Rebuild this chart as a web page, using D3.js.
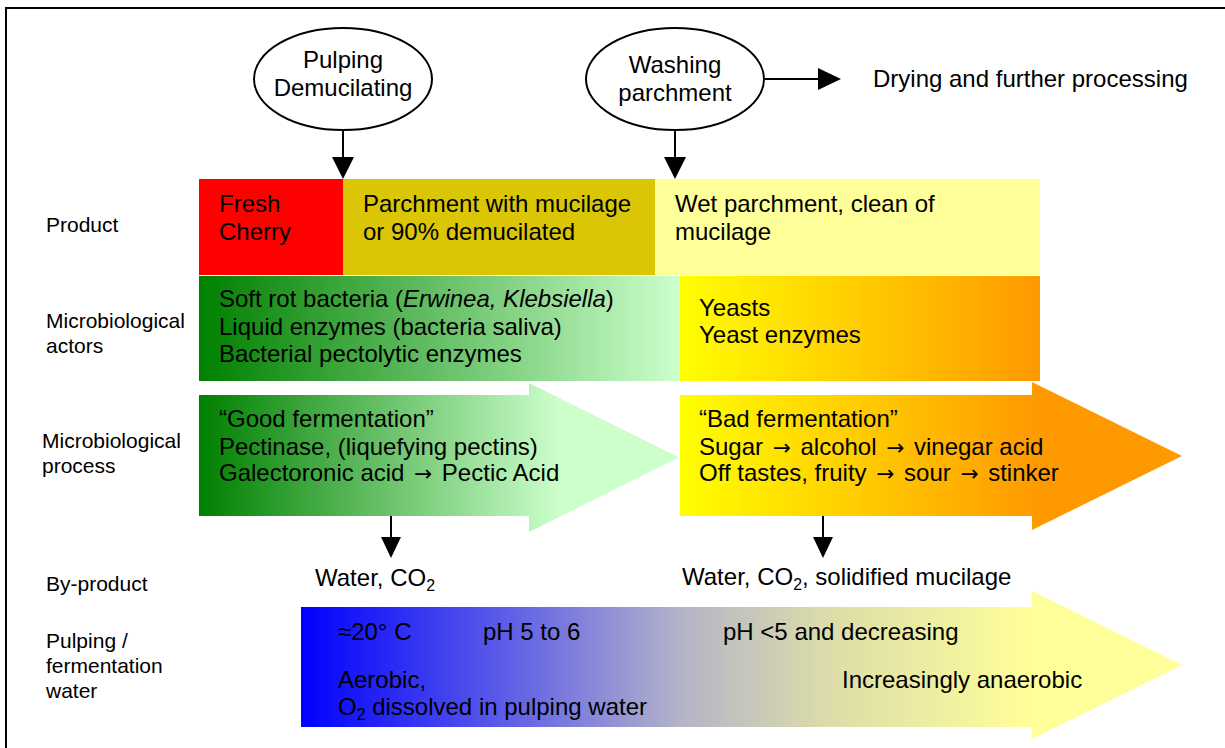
<!DOCTYPE html>
<html>
<head>
<meta charset="utf-8">
<script src="https://cdn.jsdelivr.net/npm/d3@7"></script>
<style>
  body { margin: 0; background: #fff; }
  svg text { font-family: "Liberation Sans", Arial, sans-serif; fill: #000; }
</style>
</head>
<body>
<svg id="canvas" width="1225" height="748"></svg>
<script>
// ---- data ----
let steps = [['Pulping', 'Demucilating'], ['Washing', 'parchment']]
let nextStep = 'Drying and further processing'

let rowLabels = [
  ['Product'],
  ['Microbiological', 'actors'],
  ['Microbiological', 'process'],
  ['By-product'],
  ['Pulping /', 'fermentation', 'water']
]

let productTexts = [
  ['Fresh', 'Cherry'],
  ['Parchment with mucilage', 'or 90% demucilated'],
  ['Wet parchment, clean of', 'mucilage']
]

// a line is a list of [text, style] pieces; style: '' | 'i' (italic) | 's' (subscript)
let actorTexts = [
  [[['Soft rot bacteria (', ''], ['Erwinea, Klebsiella', 'i'], [')', '']],
   [['Liquid enzymes (bacteria saliva)', '']],
   [['Bacterial pectolytic enzymes', '']]],
  [[['Yeasts', '']],
   [['Yeast enzymes', '']]]
]

let processTexts = [
  [[['\u201cGood fermentation\u201d', '']],
   [['Pectinase, (liquefying pectins)', '']],
   [['Galectoronic acid \u2192 Pectic Acid', '']]],
  [[['\u201cBad fermentation\u201d', '']],
   [['Sugar \u2192 alcohol \u2192 vinegar acid', '']],
   [['Off tastes, fruity \u2192 sour \u2192 stinker', '']]]
]

let byProducts = [
  [['Water, CO', ''], ['2', 's']],
  [['Water, CO', ''], ['2', 's'], [', solidified mucilage', '']]
]

let waterTexts = [
  [['\u224820\u00b0 C', '']],
  [['pH 5 to 6', '']],
  [['pH <5 and decreasing', '']],
  [['Aerobic,', '']],
  [['O', ''], ['2', 's'], [' dissolved in pulping water', '']],
  [['Increasingly anaerobic', '']]
]

// ---- layout / styles ----
let productColors = ['#ff0000', '#dbc605', '#ffff99']
let productEdges = [199, 343, 655, 1040]
let stepX = [343, 675]
let fontSize = 24

let canvas = d3.select('#canvas')
let defs = canvas.append('defs')

let makeGradient = (id, x1, x2, stops) => {
  let g = defs.append('linearGradient')
              .attr('id', id)
              .attr('gradientUnits', 'userSpaceOnUse')
              .attr('x1', x1).attr('x2', x2)
              .attr('y1', 0).attr('y2', 0)
  stops.forEach((s) => {
    g.append('stop').attr('offset', s[0]).attr('stop-color', s[1])
  })
}

makeGradient('gActors', 199, 679, [[0, '#008000'], [1, '#ccffcc']])
makeGradient('gYeast', 680, 1040, [[0, '#ffff00'], [1, '#ff9900']])
makeGradient('gGood', 199, 560, [[0, '#008000'], [1, '#ccffcc']])
makeGradient('gBad', 680, 1040, [[0, '#ffff00'], [1, '#ff9900']])
makeGradient('gWater', 301, 1032, [[0, '#0000ff'], [0.3, '#6464e6'], [0.52, '#b4b4c8'],
                                   [0.72, '#dcdcaa'], [1, '#ffff99']])

// frame
canvas.append('rect')
      .attr('x', 6).attr('y', 8)
      .attr('width', 1300).attr('height', 900)
      .attr('fill', 'none')
      .attr('stroke', '#000')
      .attr('stroke-width', 2)

let writeLines = (x, baselines, lines, size) => {
  let t = canvas.append('text')
                .attr('font-size', size)
  lines.forEach((line, i) => {
    let row = t.append('tspan')
               .attr('x', x)
               .attr('y', baselines[i])
    let pieces = typeof line === 'string' ? [[line, '']] : line
    let shifted = false
    let afterArrow = false
    pieces.forEach((p) => {
      p[0].split(/(\u2192)/).filter((s) => s.length).forEach((s) => {
        let sp = row.append('tspan').text(s)
        if(shifted) { sp.attr('dy', -5); shifted = false }
        if(afterArrow) { sp.attr('dx', 3); afterArrow = false }
        if(s === '\u2192') {
          // the original arrow is a long one, so give it a bit more room
          sp.attr('font-family', 'DejaVu Sans')
            .attr('font-size', size * 0.9)
            .attr('dx', 3)
          afterArrow = true
        }
        if(p[1] === 'i') {
          sp.attr('font-style', 'italic')
        } else if(p[1] === 's') {
          sp.attr('font-size', size * 0.66).attr('dy', 5)
          shifted = true
        }
      })
    })
  })
  return t
}

let arrowDown = (x, y0, y1, w, h) => {
  canvas.append('line')
        .attr('x1', x).attr('x2', x)
        .attr('y1', y0).attr('y2', y1 - h)
        .attr('stroke', '#000').attr('stroke-width', 2)
  canvas.append('polygon')
        .attr('points', [[x - w / 2, y1 - h], [x + w / 2, y1 - h], [x, y1]].join(' '))
        .attr('fill', '#000')
}

// process steps (ellipses)
steps.forEach((lines, i) => {
  canvas.append('ellipse')
        .attr('cx', stepX[i]).attr('cy', 79)
        .attr('rx', 89).attr('ry', 51)
        .attr('fill', '#fff')
        .attr('stroke', '#000')
        .attr('stroke-width', 2)
  writeLines(stepX[i], i === 0 ? [68, 96] : [73, 101], lines, fontSize)
    .attr('text-anchor', 'middle')
  arrowDown(stepX[i], 130, 179, 22, 22)
})

canvas.append('line')
      .attr('x1', 765).attr('x2', 819)
      .attr('y1', 79).attr('y2', 79)
      .attr('stroke', '#000').attr('stroke-width', 2)
canvas.append('polygon')
      .attr('points', '818,68 818,90 841,79')
      .attr('fill', '#000')
canvas.append('text')
      .attr('x', 873).attr('y', 87)
      .attr('font-size', fontSize)
      .text(nextStep)

// row labels
let labelBase = [[232], [328, 353], [448, 473], [591], [648, 673, 698]]
rowLabels.forEach((lines, i) => {
  writeLines(i === 2 ? 42 : 46, labelBase[i], lines, 21)
})

// product row
productTexts.forEach((lines, i) => {
  canvas.append('rect')
        .attr('x', productEdges[i]).attr('y', 179)
        .attr('width', productEdges[i + 1] - productEdges[i])
        .attr('height', 96)
        .attr('fill', productColors[i])
  writeLines(productEdges[i] + 20, [212, 240], lines, fontSize)
})

// actors row
canvas.append('rect')
      .attr('x', 199).attr('y', 276).attr('width', 481).attr('height', 105)
      .attr('fill', 'url(#gActors)')
canvas.append('rect')
      .attr('x', 680).attr('y', 276).attr('width', 360).attr('height', 105)
      .attr('fill', 'url(#gYeast)')
writeLines(219, [307, 335, 362], actorTexts[0], fontSize)
writeLines(699, [316, 343], actorTexts[1], fontSize)

// block arrows
let blockArrow = (x0, x1, xTip, yTop, yBot, hTop, hBot, fill) => {
  let yMid = (hTop + hBot) / 2
  canvas.append('polygon')
        .attr('points', [[x0, yTop], [x1, yTop], [x1, hTop], [xTip, yMid],
                         [x1, hBot], [x1, yBot], [x0, yBot]].join(' '))
        .attr('fill', fill)
}

blockArrow(199, 529, 679, 395, 516, 383, 532, 'url(#gGood)')
blockArrow(680, 1032, 1182, 395, 516, 382, 530, 'url(#gBad)')
blockArrow(301, 1032, 1182, 607, 727, 591, 739, 'url(#gWater)')

writeLines(219, [427, 455, 481], processTexts[0], fontSize)
writeLines(699, [427, 455, 481], processTexts[1], fontSize)

// by-products
arrowDown(391, 516, 558, 20, 21)
arrowDown(823, 516, 558, 20, 21)
writeLines(315, [586], [byProducts[0]], fontSize)
writeLines(682, [585], [byProducts[1]], fontSize)

// water row
let waterPos = [[338, 640], [483, 640], [723, 640], [338, 688], [338, 715], [842, 688]]
waterTexts.forEach((line, i) => {
  writeLines(waterPos[i][0], [waterPos[i][1]], [line], fontSize)
})
</script>
</body>
</html>
